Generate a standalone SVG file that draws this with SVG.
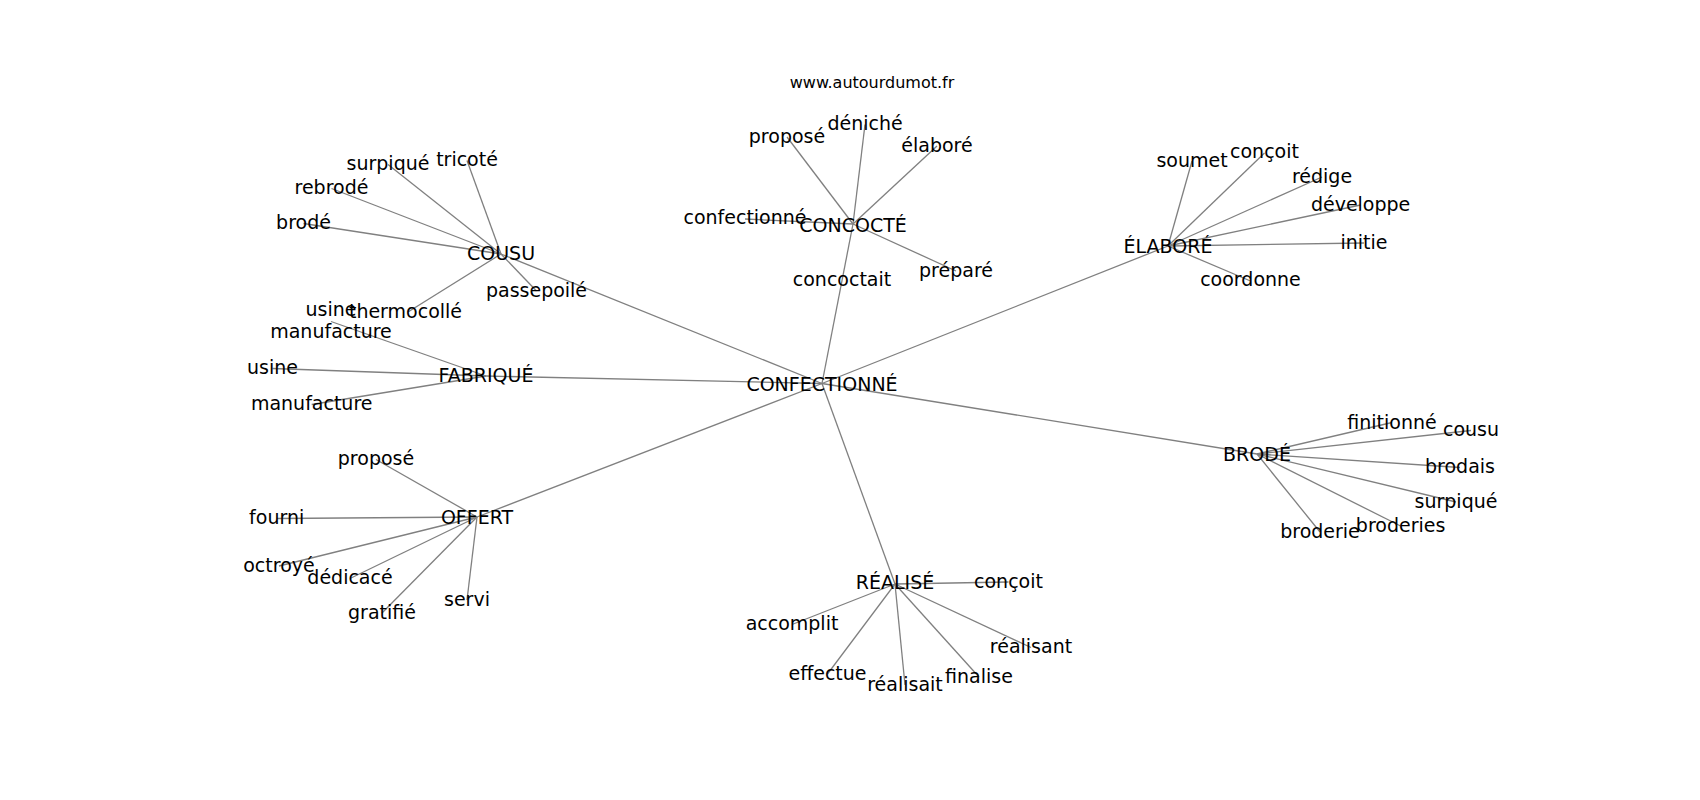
<svg xmlns="http://www.w3.org/2000/svg" width="1700" height="800" viewBox="0 0 1700 800">
<style>
text{font-family:"DejaVu Sans","Liberation Sans",sans-serif;font-size:19px;fill:#000;text-anchor:middle}
.title{font-size:16px}
#edges line{stroke:#808080;stroke-width:1.3}
</style>
<rect width="1700" height="800" fill="#fff"/>
<g id="edges">
<line x1="822" y1="383.5" x2="501" y2="254"/>
<line x1="822" y1="383.5" x2="486" y2="376"/>
<line x1="822" y1="383.5" x2="477" y2="517"/>
<line x1="822" y1="383.5" x2="895" y2="584"/>
<line x1="822" y1="383.5" x2="1257" y2="454"/>
<line x1="822" y1="383.5" x2="1168" y2="246"/>
<line x1="822" y1="383.5" x2="853" y2="224"/>
<line x1="501" y1="254" x2="388" y2="164.5"/>
<line x1="501" y1="254" x2="467" y2="160.5"/>
<line x1="501" y1="254" x2="331.5" y2="188.5"/>
<line x1="501" y1="254" x2="303.5" y2="223.5"/>
<line x1="501" y1="254" x2="536.5" y2="291"/>
<line x1="501" y1="254" x2="408" y2="312"/>
<line x1="486" y1="376" x2="331" y2="321.5"/>
<line x1="486" y1="376" x2="272.5" y2="368.5"/>
<line x1="486" y1="376" x2="311.7" y2="404.5"/>
<line x1="477" y1="517" x2="376" y2="459.5"/>
<line x1="477" y1="517" x2="276.7" y2="518.5"/>
<line x1="477" y1="517" x2="279" y2="566"/>
<line x1="477" y1="517" x2="350" y2="578.5"/>
<line x1="477" y1="517" x2="382" y2="613"/>
<line x1="477" y1="517" x2="467" y2="600"/>
<line x1="895" y1="584" x2="1008.5" y2="582"/>
<line x1="895" y1="584" x2="792" y2="624.5"/>
<line x1="895" y1="584" x2="827.5" y2="674"/>
<line x1="895" y1="584" x2="905" y2="685"/>
<line x1="895" y1="584" x2="979" y2="677"/>
<line x1="895" y1="584" x2="1031" y2="647.5"/>
<line x1="1257" y1="454" x2="1392" y2="422.5"/>
<line x1="1257" y1="454" x2="1471" y2="430.5"/>
<line x1="1257" y1="454" x2="1460" y2="467.5"/>
<line x1="1257" y1="454" x2="1456" y2="502"/>
<line x1="1257" y1="454" x2="1400.6" y2="526"/>
<line x1="1257" y1="454" x2="1320" y2="532"/>
<line x1="1168" y1="246" x2="1192" y2="161"/>
<line x1="1168" y1="246" x2="1264.5" y2="153"/>
<line x1="1168" y1="246" x2="1322" y2="177"/>
<line x1="1168" y1="246" x2="1360.6" y2="205"/>
<line x1="1168" y1="246" x2="1364" y2="243"/>
<line x1="1168" y1="246" x2="1250.5" y2="281"/>
<line x1="853" y1="224" x2="787" y2="137"/>
<line x1="853" y1="224" x2="865" y2="124.5"/>
<line x1="853" y1="224" x2="937" y2="146"/>
<line x1="853" y1="224" x2="745" y2="219"/>
<line x1="853" y1="224" x2="956" y2="271"/>
</g>
<text class="title" x="872" y="88.3">www.autourdumot.fr</text>
<g id="n-confectionne"><text x="822" y="390.5">CONFECTIONNÉ</text></g>
<g id="n-cousu"><text x="501" y="259.5">COUSU</text></g>
<g id="n-surpique1"><text x="388" y="170">surpiqué</text></g>
<g id="n-tricote"><text x="467" y="166">tricoté</text></g>
<g id="n-rebrode"><text x="331.5" y="194">rebrodé</text></g>
<g id="n-brode"><text x="303.5" y="229">brodé</text></g>
<g id="n-passepoile"><text x="536.5" y="296.7">passepoilé</text></g>
<g id="n-thermocolle"><text x="405.5" y="317.7">thermocollé</text></g>
<g id="n-usine-manufacture"><text x="331" y="316">usine</text><text x="331" y="338">manufacture</text></g>
<g id="n-fabrique"><text x="486" y="382">FABRIQUÉ</text></g>
<g id="n-usine"><text x="272.5" y="374">usine</text></g>
<g id="n-manufacture"><text x="311.7" y="410">manufacture</text></g>
<g id="n-offert"><text x="477" y="523.5">OFFERT</text></g>
<g id="n-propose2"><text x="376" y="465">proposé</text></g>
<g id="n-fourni"><text x="276.7" y="524">fourni</text></g>
<g id="n-octroye"><text x="279" y="571.7">octroyé</text></g>
<g id="n-dedicace"><text x="350" y="584">dédicacé</text></g>
<g id="n-gratifie"><text x="382" y="618.5">gratifié</text></g>
<g id="n-servi"><text x="467" y="605.5">servi</text></g>
<g id="n-realise"><text x="895" y="589">RÉALISÉ</text></g>
<g id="n-concoit2"><text x="1008.5" y="588">conçoit</text></g>
<g id="n-accomplit"><text x="792" y="630">accomplit</text></g>
<g id="n-effectue"><text x="827.5" y="680">effectue</text></g>
<g id="n-realisait"><text x="905" y="691">réalisait</text></g>
<g id="n-finalise"><text x="979" y="682.5">finalise</text></g>
<g id="n-realisant"><text x="1031" y="653">réalisant</text></g>
<g id="n-brode-main"><text x="1257" y="461">BRODÉ</text></g>
<g id="n-finitionne"><text x="1392" y="428.5">finitionné</text></g>
<g id="n-cousu2"><text x="1471" y="436">cousu</text></g>
<g id="n-brodais"><text x="1460" y="473">brodais</text></g>
<g id="n-surpique2"><text x="1456" y="507.8">surpiqué</text></g>
<g id="n-broderies"><text x="1400.6" y="531.6">broderies</text></g>
<g id="n-broderie"><text x="1320" y="538">broderie</text></g>
<g id="n-elabore"><text x="1168" y="253.3">ÉLABORÉ</text></g>
<g id="n-soumet"><text x="1192" y="166.7">soumet</text></g>
<g id="n-concoit1"><text x="1264.5" y="158.3">conçoit</text></g>
<g id="n-redige"><text x="1322" y="182.7">rédige</text></g>
<g id="n-developpe"><text x="1360.6" y="210.5">développe</text></g>
<g id="n-initie"><text x="1364" y="248.5">initie</text></g>
<g id="n-coordonne"><text x="1250.5" y="286.4">coordonne</text></g>
<g id="n-concocte"><text x="853" y="231.5">CONCOCTÉ</text></g>
<g id="n-propose1"><text x="787" y="142.7">proposé</text></g>
<g id="n-deniche"><text x="865" y="130">déniché</text></g>
<g id="n-elabore2"><text x="937" y="151.7">élaboré</text></g>
<g id="n-confectionne2"><text x="745" y="224.3">confectionné</text></g>
<g id="n-prepare"><text x="956" y="276.7">préparé</text></g>
<g id="n-concoctait"><text x="842" y="286">concoctait</text></g>
</svg>
